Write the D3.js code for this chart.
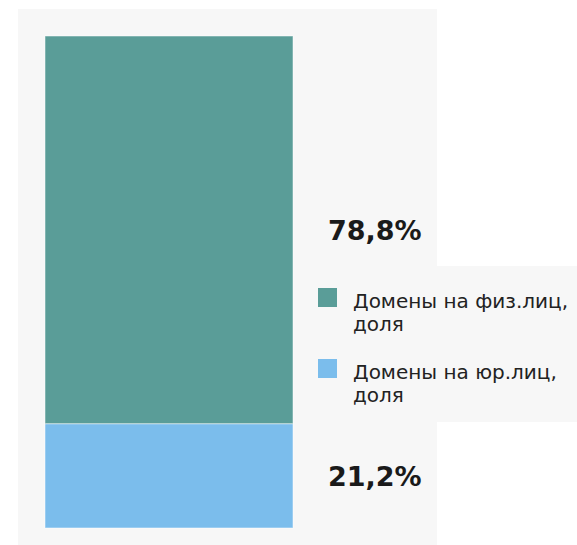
<!DOCTYPE html>
<html><head><meta charset="utf-8">
<script src="https://cdn.jsdelivr.net/npm/d3@7"></script>
<style>body{margin:0;background:#fff;}svg{display:block;}</style>
</head><body>
<svg id="c" width="577" height="545"></svg>
<script>
const categories = ["Домены на физ.лиц, доля", "Домены на юр.лиц, доля"];
const values = [78.8, 21.2];
const valueLabels = ["78,8%", "21,2%"];
const colors = ["#5a9d98", "#7bbdec"];
const legendLines = [["Домены на физ.лиц,", "доля"], ["Домены на юр.лиц,", "доля"]];

const svg = d3.select("#c");
// background panels
svg.append("rect").attr("x", 18).attr("y", 9).attr("width", 419).attr("height", 536).attr("fill", "#f7f7f7");
svg.append("rect").attr("x", 437).attr("y", 266).attr("width", 140).attr("height", 156).attr("fill", "#f7f7f7");

const y = d3.scaleLinear().domain([0, 100]).range([528, 36]);
const x = d3.scaleBand().domain(["all"]).range([45, 293]).padding(0);

// stack: second series (юр) at bottom, first (физ) on top
const order = [1, 0];
let base = 0;
const segs = order.map(i => { const s = { i, y0: base, y1: base + values[i] }; base += values[i]; return s; });

svg.selectAll("rect.bar").data(segs).enter().append("rect")
  .attr("class", "bar")
  .attr("x", x("all")).attr("width", x.bandwidth())
  .attr("y", d => y(d.y1)).attr("height", d => y(d.y0) - y(d.y1))
  .attr("fill", d => colors[d.i])
  .attr("stroke", "rgba(255,255,255,0.5)").attr("stroke-width", 1);

svg.selectAll("text.val").data(segs).enter().append("text")
  .attr("class", "val")
  .attr("x", 328)
  .attr("y", d => (y(d.y0) + y(d.y1)) / 2 + 10)
  .attr("font-family", "DejaVu Sans, Verdana, sans-serif")
  .attr("font-weight", "bold").attr("font-size", 27)
  .attr("fill", "#1a1a1a")
  .text(d => valueLabels[d.i]);

// legend
const lg = svg.append("g");
const items = lg.selectAll("g").data(categories).enter().append("g")
  .attr("transform", (d, i) => `translate(318, ${288 + i * 71})`);
items.append("rect").attr("width", 19).attr("height", 19).attr("fill", (d, i) => colors[i]);
items.each(function(d, i) {
  const t = d3.select(this).append("text")
    .attr("font-family", "DejaVu Sans, Verdana, sans-serif")
    .attr("font-size", 20).attr("fill", "#222");
  legendLines[i].forEach((ln, j) => {
    t.append("tspan").attr("x", 35).attr("y", 20 + j * 23).text(ln);
  });
});
</script>
</body></html>
